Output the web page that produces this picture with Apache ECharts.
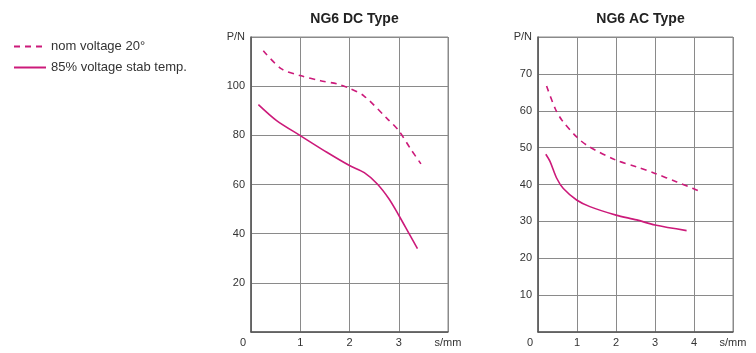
<!DOCTYPE html>
<html>
<head>
<meta charset="utf-8">
<script src="https://cdn.jsdelivr.net/npm/echarts@6/dist/echarts.min.js"></script>
<style>
html, body { margin: 0; padding: 0; background: #fff; }
#chart { width: 756px; height: 353px; }
</style>
</head>
<body>
<div id="chart"></div>
<script>
// [s/mm, P/N]
const dcNom = [[0.25, 114.4], [0.62, 107], [1.0, 104.3], [1.41, 102.2], [1.75, 100.9], [2.0, 99.1], [2.29, 96.1], [2.77, 86.7], [3.0, 81.9], [3.24, 74.5], [3.45, 68.4]]
const dcStab = [[0.15, 92.5], [0.52, 86], [1.0, 79.9], [1.54, 73.1], [2.0, 67.7], [2.3, 64.8], [2.56, 60.3], [2.8, 54.2], [3.0, 47.5], [3.21, 40], [3.38, 33.9]]
const acNom = [[0.22, 66.7], [0.44, 60.6], [0.61, 57.5], [0.99, 52.9], [1.29, 50.4], [2.0, 46.6], [2.53, 44.8], [3.0, 43], [3.56, 40.7], [3.98, 38.9], [4.14, 38.2]]
const acStab = [[0.2, 48.2], [0.31, 46.2], [0.48, 41.7], [0.65, 38.9], [0.99, 35.8], [1.33, 34], [2.0, 31.7], [2.53, 30.4], [3.0, 29], [3.81, 27.5]]

const titles = ['NG6 DC Type', 'NG6 AC Type']
const seriesNames = ['nom voltage 20°', '85% voltage stab temp.']
const xUnit = 's/mm'
const yUnit = 'P/N'

const lineColor = '#cc1a7a'
const font = 'Liberation Sans'

const chart = echarts.init(document.getElementById('chart'))

function xAxis(idx, max) {
    return {
        type: 'value',
        gridIndex: idx,
        min: 0,
        max: max,
        interval: 1,
        axisLine: { show: true, lineStyle: { color: '#555', width: 1.5 } },
        axisTick: { show: false },
        splitLine: { show: true, lineStyle: { color: '#8a8a8a', width: 1 } },
        axisLabel: {
            color: '#333',
            fontSize: 11,
            fontFamily: font,
            margin: 5,
            alignMinLabel: 'right',
            formatter: v => (v === 0 ? '{o|0}' : v === max ? xUnit : String(v)),
            rich: { o: { fontSize: 11, color: '#333', fontFamily: font, padding: [0, 5, 0, 0] } },
        },
    }
}

function yAxis(idx, max, step) {
    return {
        type: 'value',
        gridIndex: idx,
        min: 0,
        max: max,
        interval: step,
        axisLine: { show: true, lineStyle: { color: '#555', width: 1.5 } },
        axisTick: { show: false },
        splitLine: { show: true, lineStyle: { color: '#8a8a8a', width: 1 } },
        axisLabel: {
            color: '#333',
            fontSize: 11,
            fontFamily: font,
            margin: 6,
            formatter: v => (v === 0 ? '' : v === max ? yUnit : String(v)),
        },
    }
}

function line(name, idx, data, dashed) {
    return {
        name: name,
        type: 'line',
        xAxisIndex: idx,
        yAxisIndex: idx,
        data: data,
        smooth: 0.3,
        symbol: 'none',
        lineStyle: { color: lineColor, width: 1.6, type: dashed ? [6, 5] : 'solid' },
        itemStyle: { color: lineColor },
    }
}

const option = {
    animation: false,
    textStyle: { fontFamily: font },
    title: [
        { text: titles[0], left: 349.5, top: 7, textAlign: 'center', textStyle: { fontSize: 14, fontWeight: 'bold', color: '#222', fontFamily: font } },
        { text: titles[1], left: 635.5, top: 7, textAlign: 'center', textStyle: { fontSize: 14, fontWeight: 'bold', color: '#222', fontFamily: font } },
    ],
    legend: {
        orient: 'vertical',
        left: 8,
        top: 35,
        itemWidth: 32,
        itemHeight: 14,
        itemGap: 8,
        data: seriesNames,
        itemStyle: { opacity: 0 },
        textStyle: { fontSize: 13, color: '#333', fontFamily: font },
    },
    grid: [
        { left: 251, top: 37, width: 197, height: 295, show: true, borderColor: '#8a8a8a', borderWidth: 1 },
        { left: 538, top: 37, width: 195, height: 295, show: true, borderColor: '#8a8a8a', borderWidth: 1 },
    ],
    xAxis: [xAxis(0, 4), xAxis(1, 5)],
    yAxis: [yAxis(0, 120, 20), yAxis(1, 80, 10)],
    series: [
        line(seriesNames[0], 0, dcNom, true),
        line(seriesNames[1], 0, dcStab, false),
        line(seriesNames[0], 1, acNom, true),
        line(seriesNames[1], 1, acStab, false),
    ],
}

chart.setOption(option)
</script>
</body>
</html>
